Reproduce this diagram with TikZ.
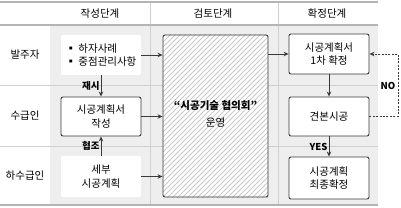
\documentclass[tikz,border=0pt]{standalone}
\usepackage{fontspec}
\setmainfont{Noto Sans CJK KR}
\usetikzlibrary{arrows.meta,positioning}
\definecolor{tablebg}{HTML}{EEEEEE}
\definecolor{gridline}{HTML}{CFCFCF}
\definecolor{ruleline}{HTML}{B4B4B4}
\definecolor{boxline}{HTML}{3A3A3A}
\definecolor{hatchgray}{HTML}{CACACA}
\tikzset{
  stepbox/.style={draw=boxline, line width=0.9pt, rounded corners=2pt, fill=white,
    align=center, minimum width=80pt, minimum height=40pt, inner sep=0pt,
    font=\fontsize{10.5}{13.5}\selectfont},
  plainbox/.style={stepbox, draw=none},
  meetbox/.style={draw=boxline, line width=0.9pt, rounded corners=2pt,
    minimum width=105pt, minimum height=162pt, inner sep=0pt},
  hatchline/.style={draw=hatchgray, line width=0.8pt},
  headtext/.style={font=\fontsize{10.5}{12}\selectfont},
  rowtext/.style={font=\fontsize{10.5}{12}\selectfont},
  tagtext/.style={font=\fontsize{9.5}{11}\selectfont\bfseries, inner sep=1pt},
  arr/.style={-{Stealth[length=5pt, width=4.5pt]}, line width=0.9pt, draw=boxline},
  noarr/.style={arr, dash pattern=on 2pt off 1.4pt}
}
\begin{document}
\begin{tikzpicture}[x=1pt,y=-1pt]
  \useasboundingbox (0,0) rectangle (401,208);
  % table background and rules
  \fill[tablebg] (50,25) rectangle (378,205);
  \draw[gridline, line width=0.8pt] (0,85) -- (378,85);
  \draw[gridline, line width=0.8pt] (0,146) -- (378,146);
  \draw[gridline, line width=0.8pt] (150,2) -- (150,205);
  \draw[gridline, line width=0.8pt] (278,2) -- (278,205);
  \draw[ruleline, line width=1.1pt] (0,2) -- (378,2);
  \draw[ruleline, line width=1.1pt] (0,25) -- (378,25);
  \draw[ruleline, line width=1.1pt] (0,205) -- (378,205);

  % column heads
  \node[headtext] (hwrite) at (100,14) {작성단계};
  \node[headtext] (hcheck) at (213,14) {검토단계};
  \node[headtext] (hfix) at (327,14) {확정단계};

  % row heads
  \node[rowtext] (rowner) at (25,55) {발주자};
  \node[rowtext] (rmain) at (25,116) {수급인};
  \node[rowtext] (rsub) at (25,176) {하수급인};

  % hatched meeting box
  \fill[white, rounded corners=2pt] (163,35) rectangle (268,197);
  \begin{scope}
    \clip (163,35) rectangle (268,197);
    \foreach \a in {-10,-5,...,270}{
      \draw[hatchline] (\a,200) -- ++(170,-170);
    }
  \end{scope}
  \node[meetbox] (meet) at (215.5,116) {};
  \node[align=center, font=\fontsize{10.5}{16.5}\selectfont] (meettext) at (215.5,114)
    {{\bfseries “시공기술 협의회”}\\운영};

  % boxes
  \node[plainbox, align=left] (cases) at (101,55) {▪ 하자사례\\▪ 중점관리사항};
  \node[stepbox, minimum height=39pt] (plan) at (101,116.5) {시공계획서\\작성};
  \node[plainbox, minimum height=41pt] (detail) at (101,176.5) {세부\\시공계획};
  \node[stepbox] (first) at (329,54) {시공계획서\\1차 확정};
  \node[stepbox, minimum height=39pt] (sample) at (329,116.5) {견본시공};
  \node[stepbox, minimum height=42pt] (final) at (329,178) {시공계획\\최종확정};

  % arrows
  \draw[arr] (cases.east) -- (cases.east -| meet.west);
  \draw[arr] (plan.east) -- (plan.east -| meet.west);
  \draw[arr] (detail.east) -- (detail.east -| meet.west);
  \draw[arr] (first.west -| meet.east) -- (first.west);
  \draw[arr] (cases.south) -- node[tagtext, left] {재시} (plan.north);
  \draw[arr] (detail.north) -- node[tagtext, left] {협조} (plan.south);
  \draw[arr] (first.south) -- (sample.north);
  \draw[arr] (sample.south) -- node[tagtext, left] {YES} (final.north);
  \coordinate (nodown) at (398,116.5);
  \coordinate (noup) at (398,54);
  \draw[noarr] (sample.east) -- (nodown) -- (noup) -- (first.east);
  \node[tagtext] (notag) at (388,86) {NO};
\end{tikzpicture}
\end{document}
